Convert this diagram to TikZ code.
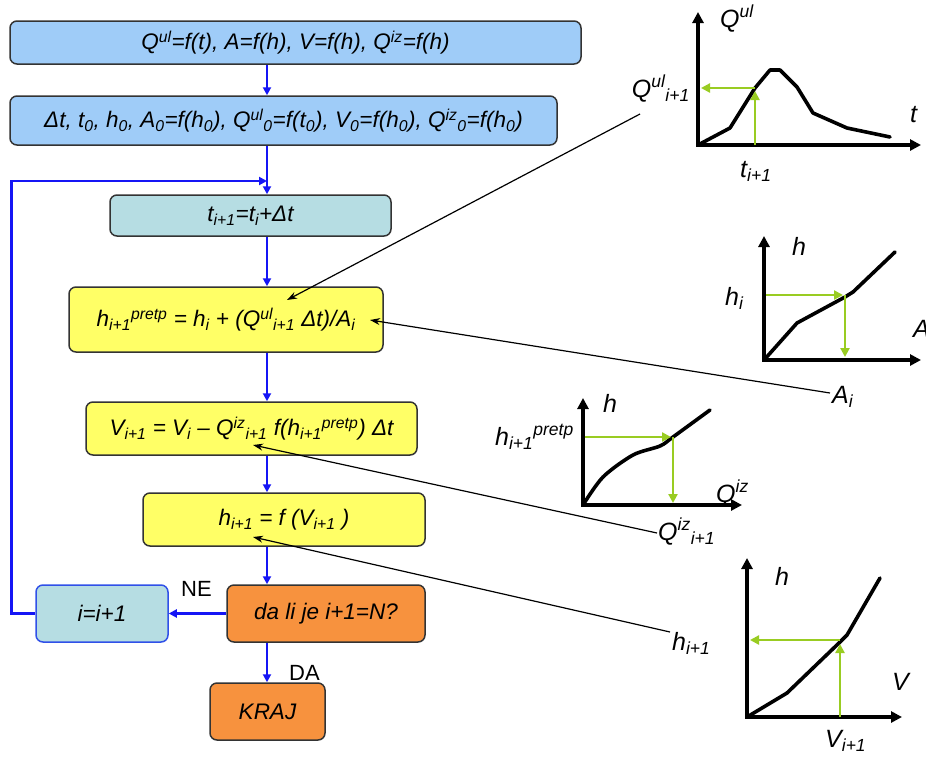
\documentclass[tikz,border=0pt]{standalone}
\usepackage{fontspec}
\setmainfont{Liberation Sans}
\usetikzlibrary{arrows.meta}
\definecolor{boxblue}{HTML}{9FCCF8}
\definecolor{boxteal}{HTML}{B6DDE3}
\definecolor{boxyellow}{HTML}{FFFF66}
\definecolor{boxorange}{HTML}{F7923E}
\definecolor{flowblue}{HTML}{1515F5}
\definecolor{edgeblue}{HTML}{3050E8}
\definecolor{curvegreen}{HTML}{99CC22}
\newcommand{\sps}[1]{\textsuperscript{#1}}
\newcommand{\sbs}[1]{\textsubscript{#1}}
\begin{document}
\begin{tikzpicture}[x=1pt,y=-1pt,
  box/.style={draw=black!80, line width=1.5pt, rounded corners=7pt, inner sep=0pt,
    font=\fontsize{22.5}{26}\selectfont\itshape, align=center},
  flow/.style={draw=flowblue, line width=2.5pt, -{Triangle[length=8pt,width=8pt]}},
  link/.style={draw=black, line width=1.2pt, -{Stealth[length=10pt,width=7pt]}},
  axis/.style={draw=black, line width=3.8pt, line join=miter, {Triangle[length=11pt,width=11pt]}-{Triangle[length=11pt,width=11pt]}},
  crv/.style={draw=black, line width=3.6pt, line join=round, line cap=round},
  garrow/.style={draw=curvegreen, line width=2.8pt, -{Triangle[length=9pt,width=9pt]}},
  lbl/.style={font=\fontsize{25}{28}\selectfont\itshape, inner sep=0pt},
  yn/.style={font=\fontsize{22}{26}\selectfont, inner sep=0pt}
]
\useasboundingbox (0,0) rectangle (926,758);
\clip (0,0) rectangle (926,758);
\fill[white] (0,0) rectangle (926,758);

% ---------- flowchart boxes ----------
\node[box, fill=boxblue, minimum width=571pt, minimum height=43pt] (b1) at (295.5,42.5)
  {Q\sps{ul}=f(t), A=f(h), V=f(h), Q\sps{iz}=f(h)};
\node[box, fill=boxblue, minimum width=547pt, minimum height=49pt] (b2) at (283.5,120.5)
  {Δt, t\sbs{0}, h\sbs{0}, A\sbs{0}=f(h\sbs{0}), Q\sps{ul}\sbs{0}=f(t\sbs{0}), V\sbs{0}=f(h\sbs{0}), Q\sps{iz}\sbs{0}=f(h\sbs{0})};
\node[box, fill=boxteal, minimum width=281pt, minimum height=41pt] (b3) at (250.5,215.5)
  {t\sbs{i+1}=t\sbs{i}+Δt};
\node[box, fill=boxyellow, minimum width=314pt, minimum height=65pt] (b4) at (226,319.5)
  {h\sbs{i+1}\sps{pretp} = h\sbs{i} + (Q\sps{ul}\sbs{i+1} Δt)/A\sbs{i}};
\node[box, fill=boxyellow, minimum width=331pt, minimum height=53pt] (b5) at (251.5,428.5)
  {V\sbs{i+1} = V\sbs{i} – Q\sps{iz}\sbs{i+1} f(h\sbs{i+1}\sps{pretp}) Δt};
\node[box, fill=boxyellow, minimum width=282pt, minimum height=53pt] (b6) at (284,519.5)
  {h\sbs{i+1} = f (V\sbs{i+1} )};
\node[box, fill=boxorange, minimum width=198pt, minimum height=57pt] (b7) at (326,613.5)
  {da li je i+1=N?};
\node[box, fill=boxteal, draw=edgeblue, minimum width=132pt, minimum height=57pt] (b8) at (102,613.5)
  {i=i+1};
\node[box, fill=boxorange, minimum width=115pt, minimum height=57pt] (b9) at (267.5,711.5)
  {KRAJ};

\coordinate (join) at (267,181);

% ---------- flow connectors ----------
\draw[flow] (b1.south -| join) -- (b2.north -| join);
\draw[flow] (b2.south -| join) -- (b3.north -| join);
\draw[flow] (b3.south -| join) -- (b4.north -| join);
\draw[flow] (b4.south -| join) -- (b5.north -| join);
\draw[flow] (b5.south -| join) -- (b6.north -| join);
\draw[flow] (b6.south -| join) -- (b7.north -| join);
\draw[flow] (b7.south -| join) -- (b9.north -| join);
\draw[flow] (b7.west) -- (b8.east);
\draw[flow] (b8.west) -- ++(-24,0) |- (join);
\node[yn, anchor=base west] (ne) at (181,596) {NE};
\node[yn, anchor=base west] (da) at (289,680) {DA};

% ---------- graph 1 : Q^ul(t) ----------
\draw[axis] (698,12) -- (698,145) -- (921,145);
\draw[crv] (698,145) -- (730,128) -- (755,88) -- (770,70) -- (780,70) -- (797,87)
  -- (813,113) -- (847,128) -- (890,137);
\draw[garrow] (755,145) -- (755,91);
\draw[garrow] (755,88) -- (701,88);
\node[lbl, anchor=base west] (gq) at (720,27) {Q\sps{ul}};
\node[lbl, anchor=base west] (gt) at (910,122) {t};
\node[lbl, anchor=base east] (qul) at (690,97) {Q\sps{ul}\sbs{i+1}};
\node[lbl, anchor=base west] (gti) at (740,177) {t\sbs{i+1}};

% ---------- graph 2 : h(A) ----------
\draw[axis] (764,236) -- (764,360) -- (921,360);
\draw[crv] (764,360) -- (797,323) -- (845,297) -- (853,292) -- (895,252);
\draw[garrow] (766,295) -- (843,295);
\draw[garrow] (845,295) -- (845,357);
\node[lbl, anchor=base west] (gh2) at (792,255) {h};
\node[lbl, anchor=base west] (ghi) at (725,305) {h\sbs{i}};
\node[lbl, anchor=base west] (gA) at (913,337) {A};
\node[lbl, anchor=base west] (gAi) at (832,403) {A\sbs{i}};

% ---------- graph 3 : h(Q^iz) ----------
\draw[axis] (583,398) -- (583,505) -- (742,505);
\draw[crv] plot[smooth] coordinates {(583,505) (603,477) (633,455) (660,446) (673,437) (710,410)};
\draw[garrow] (585,437) -- (671,437);
\draw[garrow] (673,437) -- (673,503);
\node[lbl, anchor=base west] (gh3) at (603,412) {h};
\node[lbl, anchor=base east] (ghp) at (574,445) {h\sbs{i+1}\sps{pretp}};
\node[lbl, anchor=base west] (gQ) at (716,502) {Q\sps{iz}};
\node[lbl, anchor=base west] (gQi) at (658,540) {Q\sps{iz}\sbs{i+1}};

% ---------- graph 4 : h(V) ----------
\draw[axis] (747,558) -- (747,717) -- (902,717);
\draw[crv] (747,717) -- (787,693) -- (840,642) -- (847,635) -- (880,578);
\draw[garrow] (840,717) -- (840,644);
\draw[garrow] (840,640) -- (750,640);
\node[lbl, anchor=base west] (gh4) at (775,585) {h};
\node[lbl, anchor=base west] (gV) at (892,690) {V};
\node[lbl, anchor=base west] (gVi) at (825,747) {V\sbs{i+1}};
\node[lbl, anchor=base west] (ghn) at (672,650) {h\sbs{i+1}};

% ---------- thin link arrows ----------
\coordinate (l1s) at (640,114);
\coordinate (l1e) at (287,300);
\coordinate (l2s) at (830,393);
\coordinate (l2e) at (370,320);
\coordinate (l3s) at (657,533);
\coordinate (l3e) at (253,445);
\coordinate (l4s) at (670,632);
\coordinate (l4e) at (253,537);
\draw[link] (l1s) -- (l1e);
\draw[link] (l2s) -- (l2e);
\draw[link] (l3s) -- (l3e);
\draw[link] (l4s) -- (l4e);
\end{tikzpicture}
\end{document}
